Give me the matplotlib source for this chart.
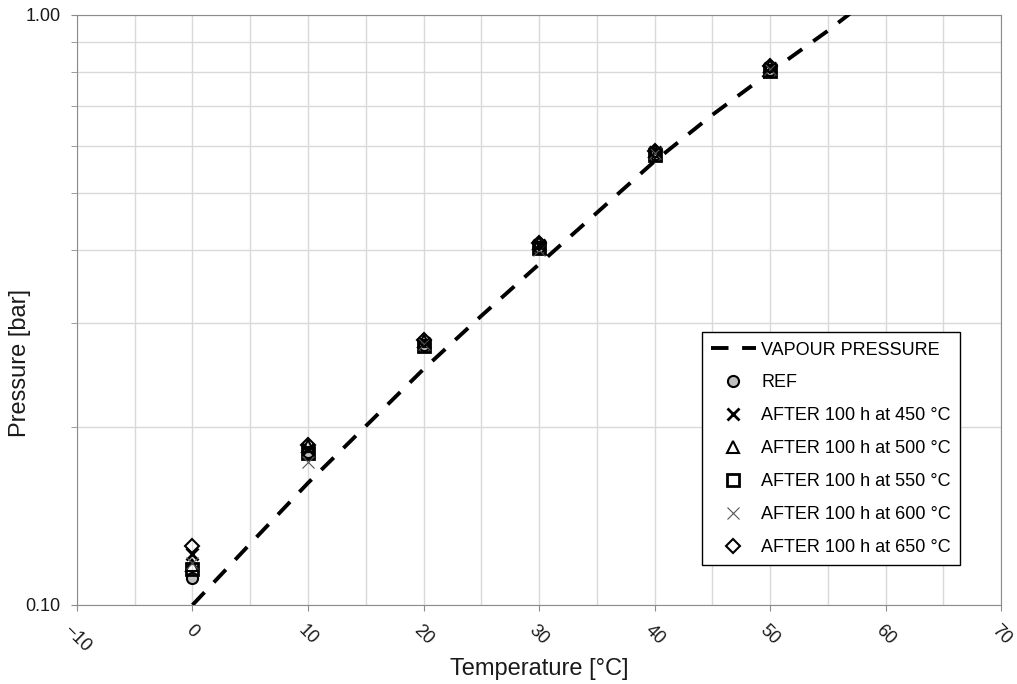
import numpy as np
import matplotlib.pyplot as plt
from matplotlib.ticker import FixedLocator, NullFormatter, FixedFormatter

plt.rcParams['font.family'] = ['Liberation Sans', 'DejaVu Sans']

# vapour pressure curve
vp_temp = [0, 5, 10, 15, 20, 25, 30, 35, 40, 45, 50, 55, 60]
vp_pres = [0.100, 0.127, 0.161, 0.201, 0.251, 0.309, 0.378, 0.462, 0.565, 0.677, 0.800, 0.940, 1.12]

# measured points
temps = [0, 10, 20, 30, 40, 50]
p_ref = [0.111, 0.182, 0.276, 0.405, 0.582, 0.808]
p_450 = [0.122, 0.184, 0.278, 0.407, 0.585, 0.812]
p_500 = [0.117, 0.186, 0.280, 0.410, 0.587, 0.818]
p_550 = [0.115, 0.181, 0.275, 0.402, 0.580, 0.805]
p_600 = [0.118, 0.175, 0.277, 0.400, 0.583, 0.810]
p_650 = [0.126, 0.187, 0.281, 0.411, 0.588, 0.820]

labels = ['VAPOUR PRESSURE', 'REF', 'AFTER 100 h at 450 °C', 'AFTER 100 h at 500 °C',
          'AFTER 100 h at 550 °C', 'AFTER 100 h at 600 °C', 'AFTER 100 h at 650 °C']

fig = plt.figure(figsize=(10.17, 6.84), dpi=100)
ax = fig.add_axes([0.0757, 0.1155, 0.9086, 0.8626])

ax.plot(vp_temp, vp_pres, color='black', lw=2.8, dashes=(4.5, 3.5), label=labels[0], zorder=3)

ms = 8
ax.plot(temps, p_ref, 'o', ms=ms, mfc='#bfbfbf', mec='black', mew=1.5, label=labels[1], zorder=4)
ax.plot(temps, p_450, 'x', ms=ms, color='black', mew=2.0, label=labels[2], zorder=4)
ax.plot(temps, p_500, '^', ms=ms, mfc='none', mec='black', mew=1.5, label=labels[3], zorder=4)
ax.plot(temps, p_550, 's', ms=ms, mfc='none', mec='black', mew=2.0, label=labels[4], zorder=4)
ax.plot(temps, p_600, 'x', ms=ms + 1, color='#555555', mew=0.8, label=labels[5], zorder=4)
ax.plot(temps, p_650, 'D', ms=ms - 1, mfc='none', mec='black', mew=1.5, label=labels[6], zorder=4)

ax.set_yscale('log')
ax.set_xlim(-10, 70)
ax.set_ylim(0.1, 1.0)

ax.xaxis.set_major_locator(FixedLocator(np.arange(-10, 71, 10)))
ax.xaxis.set_minor_locator(FixedLocator(np.arange(-5, 70, 10)))
ax.yaxis.set_major_locator(FixedLocator([0.1, 1.0]))
ax.yaxis.set_major_formatter(FixedFormatter(['0.10', '1.00']))
ax.yaxis.set_minor_locator(FixedLocator(np.arange(0.2, 1.0, 0.1)))
ax.yaxis.set_minor_formatter(NullFormatter())

ax.grid(which='both', color='#d9d9d9', lw=1.0)
ax.set_axisbelow(True)
for s in ax.spines.values():
    s.set_color('#8c8c8c')

ax.tick_params(axis='both', which='both', colors='#8c8c8c', labelcolor='#1a1a1a', labelsize=13,
               direction='out', length=4)
ax.tick_params(axis='x', which='minor', length=0)
ax.tick_params(axis='x', pad=8)
ax.tick_params(axis='y', pad=8)
for lab in ax.get_xticklabels():
    lab.set_rotation(-45)
    lab.set_ha('center')
    lab.set_va('top')

ax.set_xlabel('Temperature [°C]', fontsize=17, color='#1a1a1a', labelpad=2)
ax.set_ylabel('Pressure [bar]', fontsize=17, color='#1a1a1a')
ax.yaxis.set_label_coords(-0.050, 0.41)

leg = ax.legend(loc='lower left', bbox_to_anchor=(0.676, 0.068), fontsize=13, frameon=True,
                fancybox=False, edgecolor='black', framealpha=1, handlelength=2.5,
                handletextpad=0.3, labelspacing=0.88, borderpad=0.5, borderaxespad=0)
leg.get_frame().set_linewidth(1.0)

fig.savefig('out.png', dpi=100)
